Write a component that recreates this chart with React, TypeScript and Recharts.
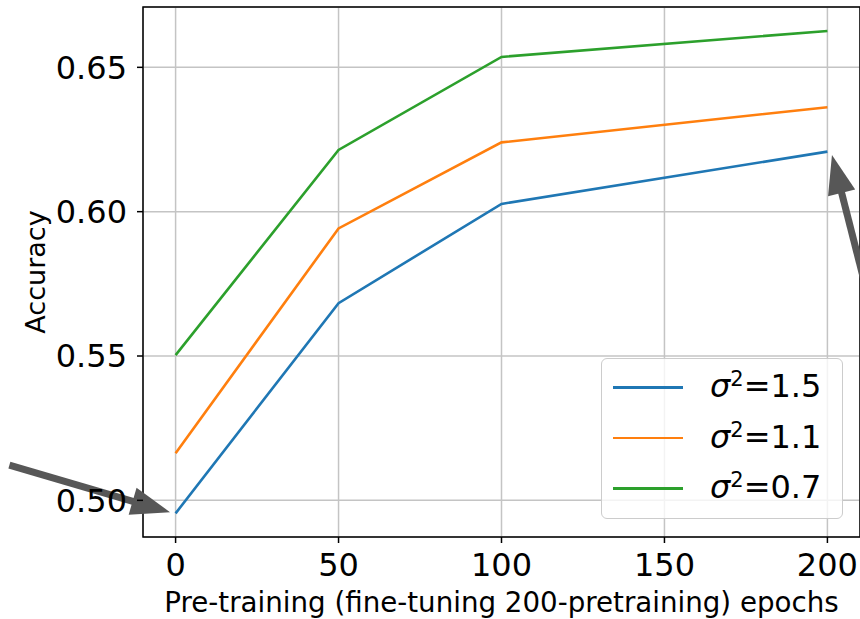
import React from "react";
import {
  CartesianGrid,
  Label,
  Line,
  LineChart,
  ReferenceArea,
  ReferenceLine,
  XAxis,
  YAxis,
} from "recharts";

// pre-training epochs and accuracy per noise level
const epochs = [0, 50, 100, 200];
const sigma15 = [0.4955, 0.5683, 0.6027, 0.6208];
const sigma11 = [0.5163, 0.5942, 0.624, 0.6362];
const sigma07 = [0.5503, 0.6214, 0.6536, 0.6626];

const xTicks = [0, 50, 100, 150, 200];
const yTicks = [0.5, 0.55, 0.6, 0.65];
const xDomain = [-10, 210];
const yDomain = [0.4873, 0.6709];

// annotation arrows: tail -> head, in data units
const arrows = [
  { from: { x: -51, y: 0.5122 }, to: { x: -1.7, y: 0.4959 } },
  { from: { x: 215.1, y: 0.559 }, to: { x: 201.4, y: 0.6196 } },
];

const series = [
  { key: "s15", label: "1.5", color: "#1f77b4" },
  { key: "s11", label: "1.1", color: "#ff7f0e" },
  { key: "s07", label: "0.7", color: "#2ca02c" },
];

const data = epochs.map((e, i) => ({
  epoch: e,
  s15: sigma15[i],
  s11: sigma11[i],
  s07: sigma07[i],
}));

const FONT = "DejaVu Sans";
const ARROW = "#575757";

const Arrow = (props: any) => {
  const { x1, y1, x2, y2 } = props;
  const dx = x2 - x1;
  const dy = y2 - y1;
  const len = Math.hypot(dx, dy) || 1;
  const ux = dx / len;
  const uy = dy / len;
  const hl = 39;
  const hw = 14;
  const bx = x2 - ux * hl;
  const by = y2 - uy * hl;
  return (
    <g>
      <line
        x1={x1}
        y1={y1}
        x2={bx + ux * 2}
        y2={by + uy * 2}
        stroke={ARROW}
        strokeWidth={7}
      />
      <polygon
        points={`${x2},${y2} ${bx - uy * hw},${by + ux * hw} ${bx + uy * hw},${by - ux * hw}`}
        fill={ARROW}
      />
    </g>
  );
};

const YTitle = ({ viewBox }: any) => {
  const cy = viewBox.y + viewBox.height / 2;
  const x = 45;
  return (
    <text
      x={x}
      y={cy}
      transform={`rotate(-90 ${x} ${cy})`}
      textAnchor="middle"
      fontSize={27}
      fontFamily={FONT}
      fill="#000"
    >
      Accuracy
    </text>
  );
};

const XTitle = ({ viewBox }: any) => (
  <text
    x={viewBox.x + viewBox.width / 2}
    y={612}
    textAnchor="middle"
    fontSize={27.7}
    fontFamily={FONT}
    fill="#000"
  >
    Pre-training (fine-tuning 200-pretraining) epochs
  </text>
);

const LegendBox = () => (
  <div
    style={{
      position: "absolute",
      left: 601,
      top: 358,
      width: 242,
      height: 161,
      boxSizing: "border-box",
      border: "1.5px solid #cccccc",
      borderRadius: 6,
      background: "rgba(255,255,255,0.8)",
    }}
  >
    {series.map((s, i) => (
      <React.Fragment key={s.key}>
        <div
          style={{
            position: "absolute",
            left: 11,
            top: 27 + i * 50.5,
            width: 70,
            height: 2.5,
            background: s.color,
          }}
        />
        <div
          style={{
            position: "absolute",
            left: 108,
            top: 11 + i * 50.5,
            fontSize: 32,
            lineHeight: "32px",
            whiteSpace: "nowrap",
            fontFamily: FONT,
          }}
        >
          <span style={{ fontStyle: "italic" }}>σ</span>
          <span style={{ fontSize: 21, position: "relative", top: -11 }}>2</span>
          <span>={s.label}</span>
        </div>
      </React.Fragment>
    ))}
  </div>
);

export default function App() {
  return (
    <div
      style={{
        position: "absolute",
        left: 0,
        top: 0,
        width: 860,
        height: 619,
        overflow: "hidden",
        background: "#fff",
        fontFamily: FONT,
      }}
    >
      <LineChart
        width={861}
        height={619}
        data={data}
        margin={{ top: 7, right: 1, left: 0, bottom: 0 }}
      >
        <CartesianGrid stroke="#c4c4c4" strokeWidth={1.5} />
        <XAxis
          dataKey="epoch"
          type="number"
          domain={xDomain}
          ticks={xTicks}
          allowDataOverflow
          height={82}
          axisLine={false}
          tickSize={6}
          tickMargin={10}
          tickLine={{ stroke: "#000", strokeWidth: 1.5 }}
          tick={{ fontSize: 32, fill: "#000", fontFamily: FONT }}
        >
          <Label content={<XTitle />} />
        </XAxis>
        <YAxis
          type="number"
          domain={yDomain}
          ticks={yTicks}
          allowDataOverflow
          width={143}
          axisLine={false}
          tickSize={6}
          tickMargin={10}
          tickLine={{ stroke: "#000", strokeWidth: 1.5 }}
          tickFormatter={(v: number) => v.toFixed(2)}
          tick={{ fontSize: 32, fill: "#000", fontFamily: FONT }}
        >
          <Label content={<YTitle />} />
        </YAxis>
        {series.map((s) => (
          <Line
            key={s.key}
            dataKey={s.key}
            type="linear"
            stroke={s.color}
            strokeWidth={2.6}
            dot={false}
            activeDot={false}
            isAnimationActive={false}
          />
        ))}
        <ReferenceArea
          x1={xDomain[0]}
          x2={xDomain[1]}
          y1={yDomain[0]}
          y2={yDomain[1]}
          fill="none"
          fillOpacity={0}
          stroke="#000"
          strokeWidth={1.5}
          ifOverflow="visible"
        />
        {arrows.map((a, i) => (
          <ReferenceLine
            key={i}
            segment={[a.from, a.to]}
            ifOverflow="visible"
            shape={Arrow}
          />
        ))}
      </LineChart>
      <LegendBox />
    </div>
  );
}
